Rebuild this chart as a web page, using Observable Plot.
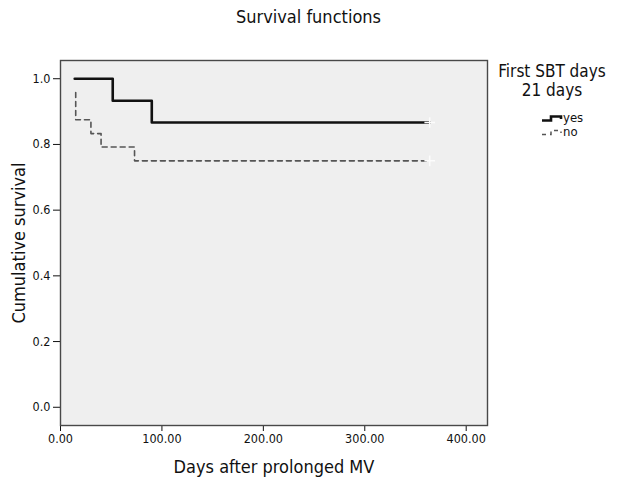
<!DOCTYPE html>
<html><head><meta charset="utf-8">
<script src="https://cdn.jsdelivr.net/npm/d3@7"></script>
<script src="https://cdn.jsdelivr.net/npm/@observablehq/plot@0.6"></script>
<style>
body{margin:0;background:#fff;}
#wrap{position:relative;width:617px;height:479px;font-family:"Liberation Sans Narrow","DejaVu Sans Condensed",sans-serif;color:#111;}
.ov{position:absolute;white-space:nowrap;}
</style></head><body>
<div id="wrap"></div>
<script>
const chartTitle = "Survival functions";
const xLabel = "Days after prolonged MV";
const yLabel = "Cumulative survival";
const legendTitle = ["First SBT days", "21 days"];
const groups = ["yes", "no"];
const yesTimes = [14, 51.5, 90, 364];
const yesSurv = [1.0, 0.933, 0.867, 0.867];
const noTimes = [15, 15, 30, 40, 73, 364];
const noSurv = [0.958, 0.875, 0.833, 0.792, 0.75, 0.75];
const xTicks = [0, 100, 200, 300, 400];
const yTicks = [0, 0.2, 0.4, 0.6, 0.8, 1.0];

const yesData = yesTimes.map((t, i) => ({t, s: yesSurv[i], g: "yes"}));
const noData = noTimes.map((t, i) => ({t, s: noSurv[i], g: "no"}));
const censor = [yesData[yesData.length - 1], noData[noData.length - 1]];

const font = '"Liberation Sans Narrow","DejaVu Sans Condensed",sans-serif';
const plot = Plot.plot({
  width: 617, height: 479,
  marginTop: 60, marginLeft: 60, marginRight: 130, marginBottom: 54,
  style: {fontFamily: font, fontSize: "12.5px", color: "#111", background: "#fff"},
  x: {domain: [0, 421], ticks: xTicks, tickFormat: d3.format(".2f"), tickSize: 6, label: xLabel, labelAnchor: "center", labelArrow: "none", labelOffset: 47},
  y: {domain: [-0.0555, 1.0555], ticks: yTicks, tickFormat: d3.format(".1f"), tickSize: 7, label: yLabel, labelAnchor: "center", labelArrow: "none", labelOffset: 48},
  marks: [
    Plot.frame({fill: "#efefef"}),
    Plot.line(noData, {x: "t", y: "s", curve: "step-after", stroke: "#555", strokeWidth: 1.6, strokeDasharray: "5,4"}),
    Plot.line(yesData, {x: "t", y: "s", curve: "step-after", stroke: "#111", strokeWidth: 2.6}),
    Plot.dot(censor, {x: "t", y: "s", symbol: "plus", r: 3.5, stroke: "#fcfcfc", strokeWidth: 1.5}),
    Plot.frame({stroke: "#484848", strokeWidth: 1.4})
  ]
});
const wrap = document.getElementById("wrap");
wrap.appendChild(plot);
d3.select(plot).selectAll("[aria-label='x-axis label'] text, [aria-label='y-axis label'] text").style("font-size", "18px");

const t = document.createElement("div");
t.className = "ov"; t.textContent = chartTitle;
t.style.cssText += "left:0;width:617px;text-align:center;top:6px;font-size:18px;";
wrap.appendChild(t);

const lg = document.createElement("div");
lg.className = "ov";
lg.style.cssText += "left:490px;width:124px;top:62px;text-align:center;font-size:17px;line-height:19px;";
lg.innerHTML = legendTitle.map(s => `<div>${s}</div>`).join("");
wrap.appendChild(lg);

const items = [
  {g: groups[0], stroke: "#111", w: 2.6, dash: null},
  {g: groups[1], stroke: "#555", w: 1.5, dash: "4,4"}
];
items.forEach((it, i) => {
  const d = document.createElement("div");
  d.className = "ov";
  d.style.cssText += `left:541px;top:${111 + i * 14}px;font-size:13px;line-height:14px;display:flex;align-items:center;`;
  const svg = `<svg width="22" height="12" style="margin-right:0px"><path d="M1,8.5 H10 V4.5 H20 V7" fill="none" stroke="${it.stroke}" stroke-width="${it.w}" ${it.dash ? `stroke-dasharray="${it.dash}"` : ""}/></svg>`;
  d.innerHTML = svg + `<span>${it.g}</span>`;
  wrap.appendChild(d);
});
</script>
</body></html>
